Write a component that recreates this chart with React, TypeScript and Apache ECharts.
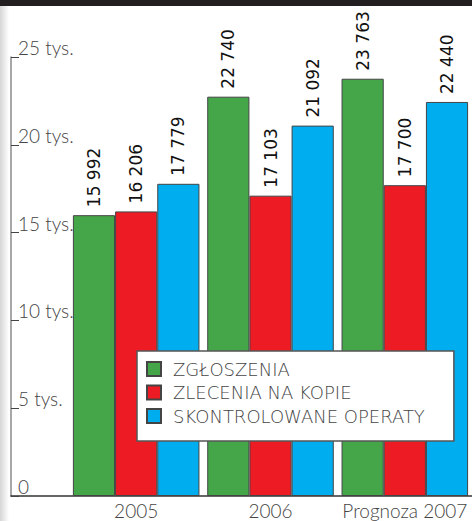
import React, { useEffect, useRef } from 'react';
import * as echarts from 'echarts';

const categories = ['2005', '2006', 'Prognoza 2007'];
const seriesNames = ['ZGŁOSZENIA', 'ZLECENIA NA KOPIE', 'SKONTROLOWANE OPERATY'];
const zgloszenia = [15992, 22740, 23763];
const zlecenia = [16206, 17103, 17700];
const operaty = [17779, 21092, 22440];
const yTickValues = [0, 5000, 10000, 15000, 20000, 25000];
const yTickLabels = ['0', '5 tys.', '10 tys.', '15 tys.', '20 tys.', '25 tys.'];
const colors = ['#45a549', '#ed1c24', '#00adef'];

const fmt = (v: number) => {
  const th = Math.floor(v / 1000);
  const rest = String(v % 1000).padStart(3, '0');
  return th > 0 ? `${th} ${rest}` : String(v);
};

export default function App() {
  const ref = useRef<HTMLDivElement>(null);
  useEffect(() => {
    document.body.style.margin = '0';
    if (!ref.current) return;
    const chart = echarts.init(ref.current, null, { renderer: 'svg' });
    const seriesData = [zgloszenia, zlecenia, operaty];
    chart.setOption({
      animation: false,
      backgroundColor: '#ffffff',
      grid: [
        { left: 69, right: -12, top: 57, bottom: 25 },
        { left: 11, right: 0, top: 57, bottom: 25 },
      ],
      xAxis: [
        {
          type: 'category',
          gridIndex: 0,
          data: categories,
          axisLine: { show: false },
          axisTick: { show: false },
          axisLabel: {
            interval: 0,
            hideOverlap: false,
            color: '#444',
            fontSize: 19,
            fontFamily: 'Lato',
            fontWeight: 300,
            margin: 5,
          },
        },
        {
          type: 'value',
          gridIndex: 1,
          min: 0,
          max: 1,
          axisLine: { show: true, lineStyle: { color: '#333', width: 1.5 } },
          axisTick: { show: false },
          axisLabel: { show: false },
          splitLine: { show: false },
        },
      ],
      yAxis: [
        {
          type: 'value',
          gridIndex: 0,
          min: 0,
          max: 25000,
          interval: 5000,
          show: false,
        },
        {
          type: 'value',
          gridIndex: 1,
          min: 0,
          max: 25000,
          interval: 5000,
          axisLine: { show: true, lineStyle: { color: '#8a8a8a', width: 1.5 } },
          axisTick: { show: true, inside: true, length: 8, lineStyle: { color: '#444', width: 1 } },
          splitLine: { show: false },
          axisLabel: {
            inside: true,
            margin: 7,
            color: '#444',
            fontSize: 19,
            fontFamily: 'Lato',
            fontWeight: 300,
            verticalAlign: 'bottom',
            formatter: (v: number) => {
              const i = yTickValues.indexOf(v);
              return i >= 0 ? yTickLabels[i] : '';
            },
          },
        },
      ],
      legend: {
        orient: 'vertical',
        left: 137,
        top: 351,
        data: seriesNames,
        icon: 'rect',
        itemWidth: 14,
        itemHeight: 14,
        itemGap: 5.5,
        padding: [9, 29, 16, 9],
        backgroundColor: '#ffffff',
        borderColor: '#555',
        borderWidth: 1.5,
        borderRadius: 0,
        textStyle: {
          color: '#444',
          fontSize: 18,
          fontFamily: 'DejaVu Sans',
          fontWeight: 200,
          padding: [0, 0, 0, 7],
        },
      },
      graphic: [
        {
          type: 'rect',
          shape: { x: 0, y: 0, width: 472, height: 6 },
          style: { fill: '#231f20' },
          z: 100,
        },
        {
          type: 'rect',
          shape: { x: 0, y: 6, width: 9, height: 515 },
          style: {
            fill: new echarts.graphic.LinearGradient(0, 0, 1, 0, [
              { offset: 0, color: '#d6d6d6' },
              { offset: 1, color: '#ffffff' },
            ]),
          },
          z: -1,
        },
      ],
      series: seriesNames.map((name, i) => ({
        name,
        type: 'bar',
        xAxisIndex: 0,
        yAxisIndex: 0,
        data: seriesData[i],
        barGap: '0%',
        barCategoryGap: '5.8%',
        clip: false,
        itemStyle: { color: colors[i], borderColor: '#444', borderWidth: 1 },
        label: {
          show: true,
          position: 'top',
          rotate: 90,
          align: 'left',
          verticalAlign: 'middle',
          distance: 8,
          color: '#111',
          fontSize: 17,
          fontFamily: 'DejaVu Sans',
          formatter: (p: any) => fmt(p.value),
        },
      })),
    });
    return () => chart.dispose();
  }, []);
  return <div ref={ref} style={{ width: 472, height: 521 }} />;
}
